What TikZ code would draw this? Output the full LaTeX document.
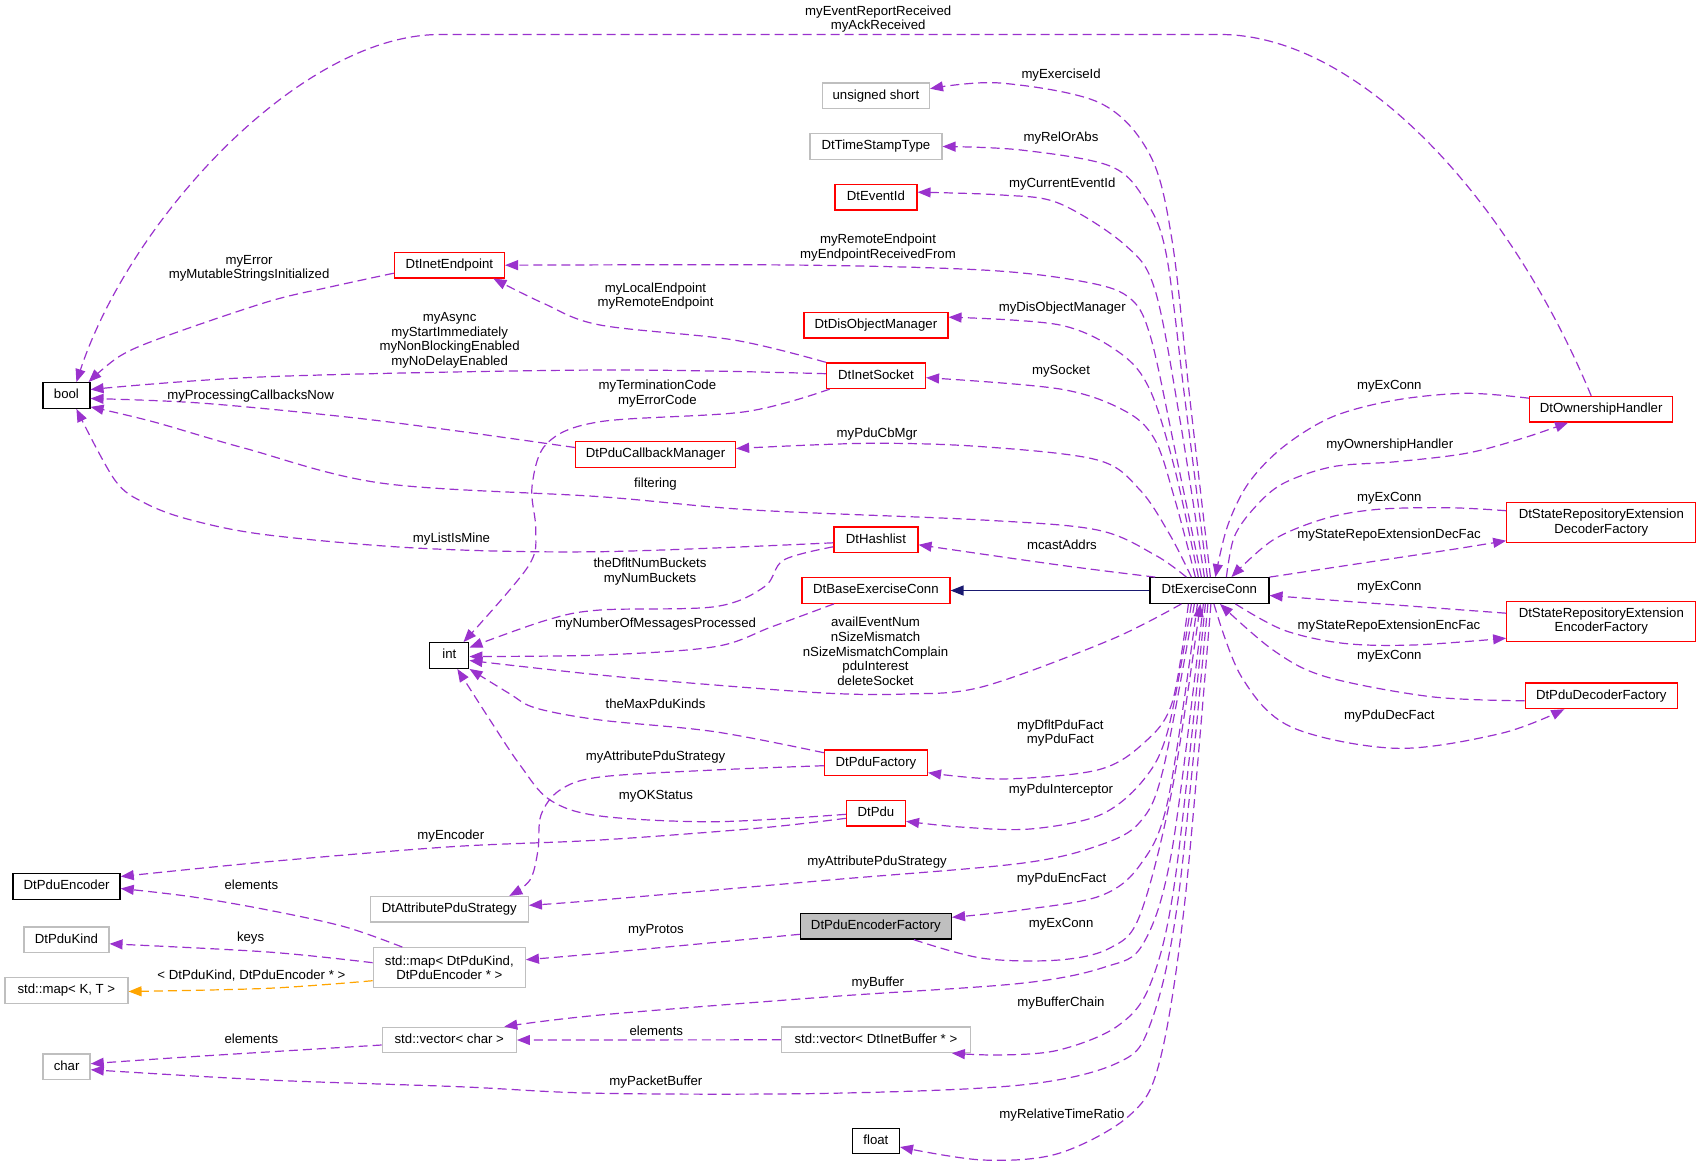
\documentclass[tikz,border=0pt]{standalone}
\usepackage{fontspec}
\setmainfont{Liberation Sans}
\usetikzlibrary{arrows.meta}
\definecolor{edgec}{RGB}{154,50,205}
\definecolor{inhc}{RGB}{25,25,112}
\definecolor{tplc}{RGB}{255,165,0}
\definecolor{boxgray}{RGB}{191,191,191}
\definecolor{fillgray}{RGB}{191,191,191}
\newcommand{\dgfont}{\fontsize{13.2pt}{14.7pt}\selectfont}
\tikzset{
  boxbase/.style={draw, line width=1.3pt, inner xsep=0pt, inner ysep=0pt, font=\dgfont},
  onel/.style={boxbase, minimum height=25.5pt, text height=9.6pt, text depth=2.8pt},
  twol/.style={boxbase, minimum height=40pt, align=center},
  blk/.style={onel, draw=black},
  redb/.style={onel, draw=red},
  redtwo/.style={twol, draw=red},
  grayb/.style={onel, draw=boxgray},
  graytwo/.style={twol, draw=boxgray},
  rel/.style={draw=edgec, line width=1.2pt, dash pattern=on 9pt off 5pt, -{Triangle[length=13pt,width=10pt]}},
  tpl/.style={rel, draw=tplc},
  inh/.style={draw=inhc, line width=1.2pt, -{Triangle[length=13pt,width=10pt]}},
  lbl/.style={font=\dgfont, align=center, inner sep=0pt},
}
\begin{document}
\begin{tikzpicture}[x=1pt,y=-1pt]
\useasboundingbox (0,0) rectangle (1701,1168);
% nodes
\node[blk, minimum width=47pt] (bool) at (66.4,395.5) {bool};
\node[redb, minimum width=110pt] (ie) at (449.4,265.2) {DtInetEndpoint};
\node[grayb, minimum width=107pt] (us) at (875.9,95.7) {unsigned short};
\node[grayb, minimum width=132pt] (ts) at (875.9,146.5) {DtTimeStampType};
\node[redb, minimum width=82pt] (eid) at (875.9,197.2) {DtEventId};
\node[redb, minimum width=144pt] (dom) at (875.9,325.2) {DtDisObjectManager};
\node[redb, minimum width=99pt] (sock) at (875.9,375.7) {DtInetSocket};
\node[redb, minimum width=160pt] (pcm) at (655.5,454.5) {DtPduCallbackManager};
\node[redb, minimum width=84pt] (hl) at (875.9,539.8) {DtHashlist};
\node[redb, minimum width=148pt] (bec) at (875.9,590.5) {DtBaseExerciseConn};
\node[blk, minimum width=39pt] (int) at (449.3,655.5) {int};
\node[redb, minimum width=103pt] (pf) at (875.9,762.7) {DtPduFactory};
\node[redb, minimum width=59pt] (pdu) at (875.9,813.3) {DtPdu};
\node[blk, minimum width=107pt] (pe) at (66.6,886.5) {DtPduEncoder};
\node[grayb, minimum width=158pt] (aps) at (449.3,909.3) {DtAttributePduStrategy};
\node[grayb, minimum width=85pt] (pk) at (66.4,939.8) {DtPduKind};
\node[graytwo, minimum width=152pt] (map) at (449.3,967.7) {std::map< DtPduKind,\\DtPduEncoder * >};
\node[blk, fill=fillgray, minimum width=151pt] (pef) at (875.9,926.3) {DtPduEncoderFactory};
\node[grayb, minimum width=123pt] (mkt) at (66.4,990.5) {std::map< K, T >};
\node[grayb, minimum width=134pt] (vc) at (449.3,1040) {std::vector< char >};
\node[grayb, minimum width=189pt] (vib) at (875.9,1039.8) {std::vector< DtInetBuffer * >};
\node[grayb, minimum width=47pt] (chr) at (66.6,1066.7) {char};
\node[blk, minimum width=47pt] (flt) at (875.9,1141) {float};
\node[blk, minimum width=119pt] (ex) at (1209.4,590.5) {DtExerciseConn};
\node[redb, minimum width=143pt] (own) at (1601.2,409.2) {DtOwnershipHandler};
\node[redtwo, minimum width=189pt] (srd) at (1601.3,522.7) {DtStateRepositoryExtension\\DecoderFactory};
\node[redtwo, minimum width=189pt] (sre) at (1601.3,621.2) {DtStateRepositoryExtension\\EncoderFactory};
\node[redb, minimum width=152pt] (pdf) at (1601.3,695.8) {DtPduDecoderFactory};
\coordinate (topR) at (1220,34.5);
\coordinate (topL) at (440,34.5);

% edges
\draw[rel] ([xshift=-10pt]own.north) .. controls (1510,200) and (1360,34.5) .. (topR) -- (topL) .. controls (300,34.5) and (130,220) .. ([xshift=10pt]bool.north);
\draw[rel] plot[smooth,tension=0.55] coordinates {([xshift=1pt]ex.north) (1190,400) (1172,240) (1150,155) (1100,103) (1000,83) ([yshift=7pt]us.east)};
\draw[rel] plot[smooth,tension=0.55] coordinates {([xshift=-2pt]ex.north) (1185,400) (1166,253) (1145,200) (1110,166) (1021,150) (ts.east)};
\draw[rel] plot[smooth,tension=0.55] coordinates {([xshift=-5pt]ex.north) (1180,420) (1155,290) (1125,245) (1059,203.3) (1001.8,195) ([yshift=5pt]eid.east)};
\draw[rel] plot[smooth,tension=0.55] coordinates {([xshift=-8pt]ex.north) (1175,450) (1150,335) (1128,296.7) (1080,281) (982.7,270) (791.3,265) (ie.east)};
\draw[rel] plot[smooth,tension=0.55] coordinates {([xshift=-11pt]ex.north) (1175,470) (1150,390) (1120,353) (1060,325) ([yshift=8pt]dom.east)};
\draw[rel] plot[smooth,tension=0.55] coordinates {([xshift=-14pt]ex.north) (1175,500) (1155,440) (1125,411) (1060,389) ([yshift=-2pt]sock.east)};
\draw[rel] plot[smooth,tension=0.55] coordinates {([xshift=-18pt]ex.north) (1170,535) (1140,490) (1097.5,460) (982.7,446.7) (867.9,443.3) ([yshift=6pt]pcm.east)};
\draw[rel] plot[smooth,tension=0.55] coordinates {([xshift=-23pt]ex.north) (1155,555) (1097.5,530) (982.7,520) (753,510) (600,496.7) (382.7,483.3) (245,448.3) (153,421.7) ([yshift=2pt]bool.south east)};
\draw[rel] plot[smooth,tension=0.55] coordinates {([xshift=6pt]ex.north west) (1059,565) ([yshift=-5pt]hl.east)};
\draw[inh] (ex.west) -- (bec.east);
\draw[rel] plot[smooth,tension=0.55] coordinates {([xshift=-28pt]ex.south) (1110,640) (982.7,686.7) (906,694) (829.6,693.3) (714.8,685) (600,675) ([yshift=-5pt]int.east)};
\draw[rel] plot[smooth,tension=0.55] coordinates {([xshift=-21pt]ex.south) (1172,703) (1143.4,743.3) (1097.5,770) (1001.8,779) ([yshift=-10pt]pf.east)};
\draw[rel] plot[smooth,tension=0.55] coordinates {([xshift=-18pt]ex.south) (1168,730) (1143.4,780) (1100,815) (1030,829) (960,827) ([yshift=-8pt]pdu.east)};
\draw[rel] plot[smooth,tension=0.55] coordinates {([xshift=-15pt]ex.south) (1163,770) (1140,822) (1100,845) (1021,863.3) (829.6,880) (600,900) ([yshift=4pt]aps.east)};
\draw[rel] plot[smooth,tension=0.55] coordinates {([xshift=-12pt]ex.south) (1168,800) (1140,865) (1100,896) (1021,910) ([yshift=9pt]pef.east)};
\draw[rel] plot[smooth,tension=0.55] coordinates {([xshift=38pt]pef.south) (982.7,958.3) (1059,960) (1110,948) (1140,915) (1172,790) ([xshift=-9pt]ex.south)};
\draw[rel] plot[smooth,tension=0.55] coordinates {([xshift=-6pt]ex.south) (1172,850) (1143.4,943.3) (1105,967) (1021,983.3) (829.6,996.7) (600,1015) ([xshift=55pt]vc.north)};
\draw[rel] plot[smooth,tension=0.55] coordinates {([xshift=-4pt]ex.south) (1175,880) (1150,985) (1116.6,1026.7) (1059,1050) (1001.8,1055) ([xshift=76pt]vib.south)};
\draw[rel] (vib.west) -- (vc.east);
\draw[rel] plot[smooth,tension=0.55] coordinates {([yshift=-5pt]vc.west) (191.3,1056.7) ([yshift=3pt]chr.east)};
\draw[rel] plot[smooth,tension=0.55] coordinates {([xshift=-1.5pt]ex.south) (1178,900) (1150,1025) (1116.6,1063.3) (1021,1085) (829.6,1093.3) (600,1093.3) (459,1086.7) (268,1080) ([yshift=-3pt]chr.east)};
\draw[rel] plot[smooth,tension=0.55] coordinates {([xshift=1.5pt]ex.south) (1185,900) (1160,1060) (1130,1115) (1059,1153.3) (982.7,1160) ([yshift=-6pt]flt.east)};
\draw[rel] plot[smooth,tension=0.55] coordinates {([yshift=11pt]own.west) (1466.3,393.3) (1396,400) (1332.7,416.7) (1283.5,446.7) (1248.4,483.3) (1227.3,526.7) ([xshift=6pt]ex.north)};
\draw[rel] plot[smooth,tension=0.55] coordinates {([xshift=17pt]ex.north) (1234.3,536.7) (1255.4,506.7) (1283.5,483.3) (1332.7,466.7) (1396,461.7) (1466.3,453.3) (1522.5,438.3) ([xshift=-33pt]own.south)};
\draw[rel] plot[smooth,tension=0.55] coordinates {([yshift=12pt]srd.west) (1448.7,507.7) (1378.4,509.3) (1325.7,518.3) (1273,540) ([xshift=22pt]ex.north)};
\draw[rel] plot[smooth,tension=0.55] coordinates {(ex.north east) (1360.8,563.3) (1448.7,550) ([yshift=-18pt]srd.west)};
\draw[rel] plot[smooth,tension=0.55] coordinates {([yshift=8pt]sre.west) (1396,605) ([yshift=-5pt]ex.east)};
\draw[rel] plot[smooth,tension=0.55] coordinates {([xshift=26pt]ex.south) (1283.5,630) (1343.3,643.3) (1413.6,645) ([yshift=-17pt]sre.west)};
\draw[rel] plot[smooth,tension=0.55] coordinates {([yshift=-5pt]pdf.west) (1431,696.7) (1325.7,676.7) (1273,650) ([xshift=10.6pt]ex.south)};
\draw[rel] plot[smooth,tension=0.55] coordinates {([xshift=4.5pt]ex.south) (1241.4,676.7) (1290.6,726.7) (1396,748.3) (1501.4,733.3) ([xshift=-37pt]pdf.south)};
\draw[rel] plot[smooth,tension=0.55] coordinates {([yshift=-8pt]ie.west) (330,287) (268,301.7) (164.5,336.7) (120,356) ([xshift=-2pt]bool.north east)};
\draw[rel] plot[smooth,tension=0.55] coordinates {(sock.north west) (733.9,340) (600,325) (543.4,303.3) ([xshift=44pt]ie.south)};
\draw[rel] plot[smooth,tension=0.55] coordinates {([yshift=2pt]sock.west) (600,370) (268,376.7) ([yshift=6pt]bool.east)};
\draw[rel] plot[smooth,tension=0.55] coordinates {([xshift=4pt]sock.south west) (745.4,411.7) (600,421.7) (547,443.3) (532,486.7) (535.7,530) (528,566.7) ([xshift=-6pt]int.north east)};
\draw[rel] plot[smooth,tension=0.55] coordinates {([yshift=7pt]pcm.west) (450,430) (344,416.7) (200,403) ([yshift=-3pt]bool.east)};
\draw[rel] plot[smooth,tension=0.55] coordinates {([yshift=-3pt]hl.west) (600,551.7) (421,548.3) (268,535) (191,520) (145.4,503.3) (114.8,480) ([xshift=10pt]bool.south)};
\draw[rel] plot[smooth,tension=0.55] coordinates {([yshift=-7pt]hl.west) (783.7,560) (764.5,586.7) (714.8,606.7) (600,610) (547,620) ([yshift=8pt]int.east)};
\draw[rel] plot[smooth,tension=0.55] coordinates {([xshift=-42pt]bec.south) (772,626.7) (714.8,646.7) (600,655) ([yshift=-1pt]int.east)};
\draw[rel] plot[smooth,tension=0.55] coordinates {([yshift=10pt]pf.west) (714.8,731.7) (600,720) (535.7,708) (509,693.3) (int.south east)};
\draw[rel] plot[smooth,tension=0.55] coordinates {([yshift=-3pt]pf.west) (714,770) (600,777) (560,790) (541,815) (538,850) (530,880) ([xshift=60pt]aps.north)};
\draw[rel] plot[smooth,tension=0.55] coordinates {([yshift=-1pt]pdu.west) (714.8,821.7) (600,816) (550,800) (520,765) (490,720) ([xshift=8pt]int.south)};
\draw[rel] plot[smooth,tension=0.55] coordinates {([yshift=-5pt]pdu.west) (760,828) (600,840) (451.5,846.7) (268,861.7) ([yshift=10pt]pe.east)};
\draw[rel] plot[smooth,tension=0.55] coordinates {([xshift=-47pt]map.north) (344.4,926.7) (268,910) (191.3,896.7) ([yshift=-2pt]pe.east)};
\draw[rel] plot[smooth,tension=0.55] coordinates {([yshift=5pt]map.west) (268,952) ([yshift=-4pt]pk.east)};
\draw[tpl] plot[smooth,tension=0.55] coordinates {([yshift=-13pt]map.west) (268,988.3) ([yshift=-1pt]mkt.east)};
\draw[rel] plot[smooth,tension=0.55] coordinates {([yshift=-8pt]pef.west) (600,953.3) ([yshift=8pt]map.east)};

% labels
\node[lbl] (l1) at (878.2,19) {myEventReportReceived\\myAckReceived};
\node[lbl] (l2) at (1061.1,74.7) {myExerciseId};
\node[lbl] (l3) at (1061,138.3) {myRelOrAbs};
\node[lbl] (l4) at (1062.2,184.3) {myCurrentEventId};
\node[lbl] (l5) at (878,247.7) {myRemoteEndpoint\\myEndpointReceivedFrom};
\node[lbl] (l6) at (249.1,268.2) {myError\\myMutableStringsInitialized};
\node[lbl] (l7) at (655.5,296) {myLocalEndpoint\\myRemoteEndpoint};
\node[lbl] (l8) at (1062.2,308.3) {myDisObjectManager};
\node[lbl] (l9) at (449.6,340.2) {myAsync\\myStartImmediately\\myNonBlockingEnabled\\myNoDelayEnabled};
\node[lbl] (l10) at (1061,371) {mySocket};
\node[lbl] (l11) at (657.4,393.5) {myTerminationCode\\myErrorCode};
\node[lbl] (l12) at (250.6,395.7) {myProcessingCallbacksNow};
\node[lbl] (l13) at (1389.3,386) {myExConn};
\node[lbl] (l14) at (877,434.5) {myPduCbMgr};
\node[lbl] (l15) at (1389.7,444.7) {myOwnershipHandler};
\node[lbl] (l16) at (655.5,484.3) {filtering};
\node[lbl] (l17) at (1389.3,498.3) {myExConn};
\node[lbl] (l18) at (1389,535.3) {myStateRepoExtensionDecFac};
\node[lbl] (l19) at (451.5,539.3) {myListIsMine};
\node[lbl] (l20) at (1061.9,544.3) {mcastAddrs};
\node[lbl] (l21) at (650,571.8) {theDfltNumBuckets\\myNumBuckets};
\node[lbl] (l22) at (1389.3,587.7) {myExConn};
\node[lbl] (l23) at (655.5,624) {myNumberOfMessagesProcessed};
\node[lbl] (l24) at (1389,626.3) {myStateRepoExtensionEncFac};
\node[lbl] (l25) at (875.5,651.3) {availEventNum\\nSizeMismatch\\nSizeMismatchComplain\\pduInterest\\deleteSocket};
\node[lbl] (l26) at (1389.3,656.3) {myExConn};
\node[lbl] (l27) at (655.5,703.3) {theMaxPduKinds};
\node[lbl] (l28) at (1389.3,716.3) {myPduDecFact};
\node[lbl] (l29) at (1060.3,733.2) {myDfltPduFact\\myPduFact};
\node[lbl] (l30) at (655.5,756.7) {myAttributePduStrategy};
\node[lbl] (l31) at (1061,790.5) {myPduInterceptor};
\node[lbl] (l32) at (656,796) {myOKStatus};
\node[lbl] (l33) at (450.8,836) {myEncoder};
\node[lbl] (l34) at (877,862.3) {myAttributePduStrategy};
\node[lbl] (l35) at (1061.5,879.3) {myPduEncFact};
\node[lbl] (l36) at (251.4,884.3) {elements};
\node[lbl] (l37) at (1061.1,924.3) {myExConn};
\node[lbl] (l38) at (655.9,930.3) {myProtos};
\node[lbl] (l39) at (250.6,938.3) {keys};
\node[lbl] (l40) at (251.4,975.3) {< DtPduKind, DtPduEncoder * >};
\node[lbl] (l41) at (877.8,983) {myBuffer};
\node[lbl] (l42) at (1061,1003.3) {myBufferChain};
\node[lbl] (l43) at (656.3,1031) {elements};
\node[lbl] (l44) at (251.4,1038.3) {elements};
\node[lbl] (l45) at (655.9,1082.3) {myPacketBuffer};
\node[lbl] (l46) at (1061.9,1115) {myRelativeTimeRatio};
\end{tikzpicture}
\end{document}
